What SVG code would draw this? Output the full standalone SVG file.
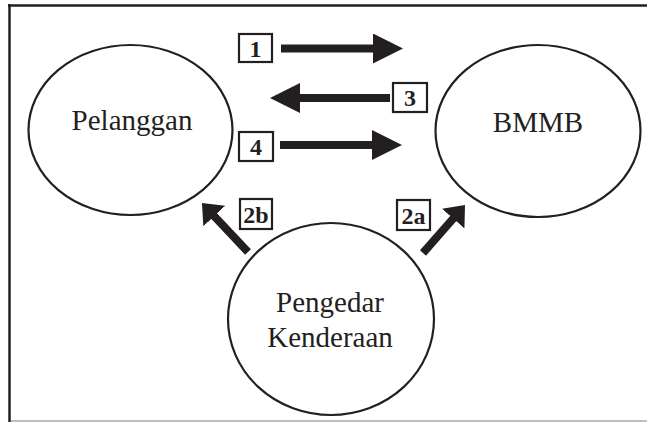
<svg xmlns="http://www.w3.org/2000/svg" width="647" height="422" viewBox="0 0 647 422">
  <style>
    .node { fill: #ffffff; stroke: #231f20; stroke-width: 2.2; }
    .lbl { font-family: "Liberation Serif", "Times New Roman", serif; font-size: 29px; fill: #231f20; text-anchor: middle; }
    .box { fill: #ffffff; stroke: #231f20; stroke-width: 2.2; }
    .num { font-family: "Liberation Serif", "Times New Roman", serif; font-size: 24px; font-weight: bold; fill: #231f20; text-anchor: middle; }
    .shaft { stroke: #231f20; stroke-width: 8; fill: none; }
    .frame { stroke: #231f20; stroke-width: 2.5; fill: none; }
  </style>
  <defs>
    <marker id="headH" markerUnits="userSpaceOnUse" markerWidth="30" markerHeight="30" viewBox="0 0 30 30" refX="1" refY="15" orient="auto">
      <path d="M0,0 L30,15 L0,30 z" fill="#231f20"/>
    </marker>
    <marker id="headD" markerUnits="userSpaceOnUse" markerWidth="18" markerHeight="30" viewBox="0 0 18 30" refX="1" refY="15" orient="auto">
      <path d="M0,0 L18,15 L0,30 z" fill="#231f20"/>
    </marker>
  </defs>
  <rect width="647" height="422" fill="#ffffff"/>
  <g id="frame">
    <line class="frame" x1="8" y1="5.5" x2="647" y2="5.5"/>
    <line class="frame" x1="9.5" y1="4" x2="9.5" y2="422"/>
    <line x1="11" y1="421" x2="647" y2="421" stroke="#a8a8a8" stroke-width="1.5"/>
  </g>
  <g id="node-pelanggan">
    <ellipse class="node" cx="130.5" cy="130" rx="102" ry="85"/>
    <text class="lbl" x="132" y="130">Pelanggan</text>
  </g>
  <g id="node-bmmb">
    <ellipse class="node" cx="538" cy="131" rx="102.5" ry="86"/>
    <text class="lbl" x="538" y="132">BMMB</text>
  </g>
  <g id="node-pengedar">
    <ellipse class="node" cx="331" cy="319" rx="103" ry="96"/>
    <text class="lbl" x="330" y="312">Pengedar</text>
    <text class="lbl" x="330" y="347">Kenderaan</text>
  </g>
  <g id="connectors">
    <line class="shaft" x1="281" y1="48.5" x2="374" y2="48.5" marker-end="url(#headH)"/>
    <line class="shaft" x1="390" y1="98" x2="299" y2="98" marker-end="url(#headH)"/>
    <line class="shaft" x1="280" y1="145" x2="373" y2="145" marker-end="url(#headH)"/>
    <line class="shaft" x1="248" y1="252" x2="213.6" y2="215.4" marker-end="url(#headD)"/>
    <line class="shaft" x1="423" y1="253" x2="453.8" y2="217.8" marker-end="url(#headD)"/>
  </g>
  <g id="label-1">
    <rect class="box" x="239" y="34" width="33" height="28"/>
    <text class="num" x="255.5" y="56.5">1</text>
  </g>
  <g id="label-3">
    <rect class="box" x="393" y="83" width="34" height="29"/>
    <text class="num" x="410" y="106">3</text>
  </g>
  <g id="label-4">
    <rect class="box" x="239" y="132" width="34" height="29"/>
    <text class="num" x="256" y="155">4</text>
  </g>
  <g id="label-2b">
    <rect class="box" x="240" y="199" width="32" height="30"/>
    <text class="num" x="256" y="222.5">2b</text>
  </g>
  <g id="label-2a">
    <rect class="box" x="397" y="200" width="33" height="30"/>
    <text class="num" x="413.5" y="223.5">2a</text>
  </g>
</svg>
